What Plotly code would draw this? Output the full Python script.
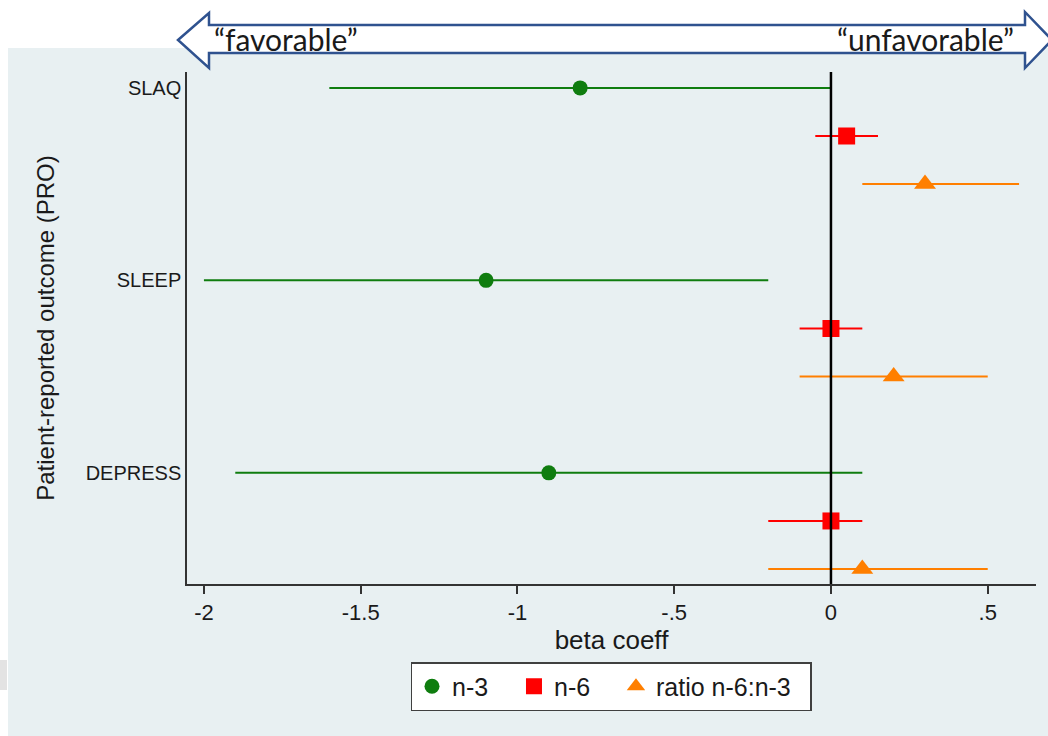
import plotly.graph_objects as go

# ---- data ----
outcomes = ["SLAQ", "SLEEP", "DEPRESS"]
series_names = ["n-3", "n-6", "ratio n-6:n-3"]
n3_beta = [-0.8, -1.1, -0.9]
n3_lo = [-1.6, -2.0, -1.9]
n3_hi = [0.0, -0.2, 0.1]
n6_beta = [0.05, 0.0, 0.0]
n6_lo = [-0.05, -0.1, -0.2]
n6_hi = [0.15, 0.1, 0.1]
ratio_beta = [0.3, 0.2, 0.1]
ratio_lo = [0.1, -0.1, -0.2]
ratio_hi = [0.6, 0.5, 0.5]
x_tickvals = [-2, -1.5, -1, -0.5, 0, 0.5]
x_ticktext = ["-2", "-1.5", "-1", "-.5", "0", ".5"]

# ---- layout geometry (pixels) ----
W, H = 1048, 736
L, R, T, B = 187, 1036, 72, 584


def px(x, y):
    return ((x - L) / (R - L), (B - y) / (B - T))


# row positions: each outcome block has 3 rows, spaced with a gap row
base = [0, 4, 8]
offsets = [0, 1, 2]

colors = ["#0f7d0f", "#ff0000", "#ff7f00"]
symbols = ["circle", "square", "triangle-up"]
sizes = [15, 17, 19]
betas = [n3_beta, n6_beta, ratio_beta]
los = [n3_lo, n6_lo, ratio_lo]
his = [n3_hi, n6_hi, ratio_hi]
pads = ["\u00a0\u00a0\u00a0", "\u00a0\u00a0\u00a0", "\u00a0\u00a0"]

fig = go.Figure()
for k in range(3):
    ys = [b + offsets[k] for b in base]
    fig.add_trace(go.Scatter(
        x=betas[k], y=ys, mode="markers",
        name=series_names[k] + pads[k],
        marker=dict(color=colors[k], symbol=symbols[k], size=sizes[k], line=dict(width=0)),
        error_x=dict(type="data", symmetric=False,
                     array=[h - b for h, b in zip(his[k], betas[k])],
                     arrayminus=[b - l for b, l in zip(betas[k], los[k])],
                     color=colors[k], thickness=2, width=0),
    ))

shapes = []
# light panel background
x0, y0 = px(8, 48)
x1, y1 = px(W, H)
shapes.append(dict(type="rect", xref="paper", yref="paper", x0=x0, y0=y1, x1=x1, y1=y0,
                   fillcolor="#e8f0f2", line=dict(width=0), layer="below"))
gx0, gy0 = px(0, 660)
gx1, gy1 = px(7, 690)
shapes.append(dict(type="rect", xref="paper", yref="paper", x0=gx0, y0=gy1, x1=gx1, y1=gy0,
                   fillcolor="#e3e3e3", line=dict(width=0), layer="below"))
# zero line
shapes.append(dict(type="line", xref="x", yref="paper", x0=0, x1=0, y0=0, y1=1,
                   line=dict(color="black", width=2.5), layer="above"))
# double-headed block arrow
pts = [(178, 40), (209, 13), (209, 25), (1025, 25), (1025, 12), (1052, 40),
       (1025, 68), (1025, 53), (209, 53), (209, 68)]
path = ""
for i, (a, b) in enumerate(pts):
    xp, yp = px(a, b)
    path += ("M" if i == 0 else "L") + f"{xp:.5f},{yp:.5f} "
path += "Z"
shapes.append(dict(type="path", xref="paper", yref="paper", path=path,
                   fillcolor="white", line=dict(color="#2f528f", width=2.5), layer="above"))

annotations = []
fx, fy = px(212, 39)
annotations.append(dict(text="\u201cfavorable\u201d", xref="paper", yref="paper", x=fx, y=fy,
                        xanchor="left", yanchor="middle", showarrow=False,
                        font=dict(family="Lato, Open Sans, sans-serif", size=30, color="#1a1a1a")))
ux, uy = px(1016, 39)
annotations.append(dict(text="\u201cunfavorable\u201d", xref="paper", yref="paper", x=ux, y=uy,
                        xanchor="right", yanchor="middle", showarrow=False,
                        font=dict(family="Lato, Open Sans, sans-serif", size=30, color="#1a1a1a")))

lx, ly = px(611, 662)

fig.update_layout(
    width=W, height=H,
    margin=dict(l=L, r=W - R, t=T, b=H - B, pad=0),
    paper_bgcolor="white", plot_bgcolor="white",
    font=dict(family="Liberation Sans, Arial, sans-serif", color="#1a1a1a"),
    shapes=shapes, annotations=annotations,
    showlegend=True,
    legend=dict(orientation="h", x=lx, y=ly, xanchor="center", yanchor="top",
                bgcolor="white", bordercolor="#404040", borderwidth=1.5,
                font=dict(size=25, family="Liberation Sans, Arial, sans-serif"),
                itemsizing="trace", traceorder="normal"),
    xaxis=dict(range=[-2.054, 0.654], tickvals=x_tickvals, ticktext=x_ticktext,
               showgrid=False, zeroline=False, showline=True, linecolor="#333333", linewidth=1.5,
               ticks="outside", ticklen=8, tickwidth=1.5, tickcolor="#333333",
               tickfont=dict(size=22), title=dict(text="beta coeff", font=dict(size=26), standoff=0),
               mirror=False),
    yaxis=dict(range=[10.31, -0.33], tickvals=base, ticktext=outcomes,
               showgrid=False, zeroline=False, showline=True, linecolor="#333333", linewidth=1.5,
               ticks="", ticklen=0, tickfont=dict(size=20),
               title=dict(text="Patient-reported outcome (PRO)", font=dict(size=24), standoff=24)),
)

fig.write_html("out.html", config={"displayModeBar": False},
               post_script="document.body.style.margin='0';document.body.style.overflow='hidden';")
